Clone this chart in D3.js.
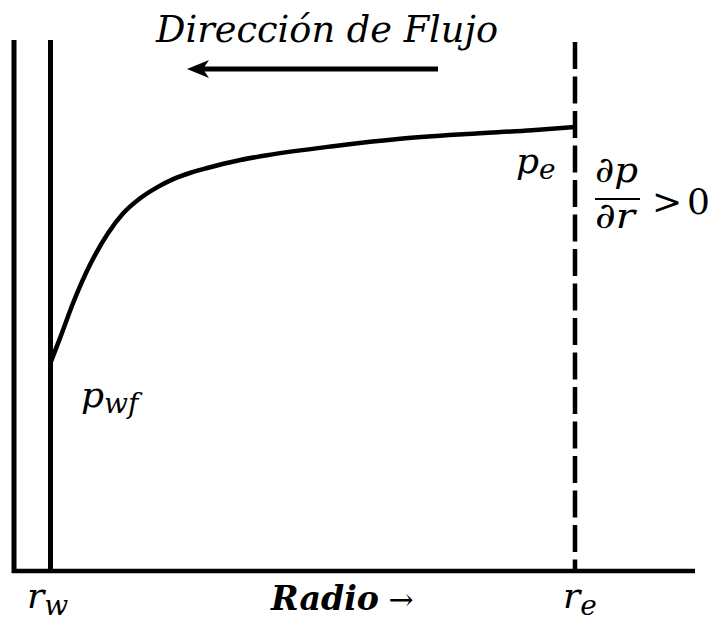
<!DOCTYPE html>
<html><head><meta charset="utf-8">
<script src="https://cdn.jsdelivr.net/npm/d3@7"></script>
<style>html,body{margin:0;padding:0;background:#fff;}svg{display:block;}</style>
</head><body>
<svg id="c" width="714" height="627"></svg>
<script>
// radius in % of distance from r_w (0) to r_e (100); pressure in % of plot height
const radius   = [0, 1.9, 4.4, 7.6, 10.9, 13.9, 17.1, 20.4, 23.4, 26.7, 29.9, 36.2, 41.3, 53.9, 66.7, 79.4, 91.8, 100];
const pressure = [39.2, 44.1, 50.7, 57.8, 63.5, 67.4, 70.2, 72.3, 73.8, 75.0, 75.9, 77.4, 78.3, 80.0, 81.4, 82.3, 83.0, 83.6];
const title = "Dirección de Flujo";
const xLabel = "Radio";
const xArrow = " →";
const boundaryLabels = ["r", "w", "r", "e"];

const svg = d3.select("#c");
const x = d3.scaleLinear().domain([0, 100]).range([50.5, 575]);
const y = d3.scaleLinear().domain([0, 100]).range([571, 40]);
const xAxisScale = d3.scaleLinear().domain([-10, 130]).range([12, 695]);

const serif = "'DejaVu Serif', 'Liberation Serif', serif";

// frame: left axis & bottom axis
svg.append("line").attr("x1", 14).attr("x2", 14).attr("y1", 40).attr("y2", 573)
  .attr("stroke", "#000").attr("stroke-width", 5);
svg.append("line").attr("x1", xAxisScale.range()[0]).attr("x2", xAxisScale.range()[1]).attr("y1", y(0)).attr("y2", y(0))
  .attr("stroke", "#000").attr("stroke-width", 4.5);

// r_w line
svg.append("line").attr("x1", x(0)).attr("x2", x(0)).attr("y1", 40).attr("y2", y(0))
  .attr("stroke", "#000").attr("stroke-width", 5);
// r_e dashed line
svg.append("line").attr("x1", x(100)).attr("x2", x(100)).attr("y1", 42).attr("y2", y(0))
  .attr("stroke", "#000").attr("stroke-width", 4.5).attr("stroke-dasharray", "27,7.5");

// pressure curve
const pts = radius.map((r, i) => [r, pressure[i]]);
svg.append("path").datum(pts)
  .attr("d", d3.line().x(d => x(d[0])).y(d => y(d[1])).curve(d3.curveMonotoneX))
  .attr("fill", "none").attr("stroke", "#000").attr("stroke-width", 4.5);

// title
svg.append("text").attr("x", 156).attr("y", 42).attr("textLength", 342).attr("lengthAdjust", "spacingAndGlyphs")
  .attr("font-family", serif).attr("font-style", "italic").attr("font-size", 38).attr("fill", "#000").text(title);

// flow arrow
svg.append("line").attr("x1", 438).attr("x2", 200).attr("y1", 69).attr("y2", 69)
  .attr("stroke", "#000").attr("stroke-width", 5);
svg.append("path").attr("d", "M187,69 L209,60 L203,69 L209,78 Z").attr("fill", "#000");

// p_wf
const pwf = svg.append("text").attr("x", 81).attr("y", 407).attr("font-family", serif).attr("font-style", "italic").attr("font-size", 36).attr("fill", "#000");
pwf.append("tspan").text("p");
pwf.append("tspan").attr("dy", 6).attr("font-size", 28).text("wf");

// p_e
const pe = svg.append("text").attr("x", 516).attr("y", 173).attr("font-family", serif).attr("font-style", "italic").attr("font-size", 36).attr("fill", "#000");
pe.append("tspan").text("p");
pe.append("tspan").attr("dy", 6).attr("font-size", 28).text("e");

// derivative
svg.append("text").attr("x", 595).attr("y", 182).attr("textLength", 43).attr("lengthAdjust", "spacingAndGlyphs").attr("font-family", serif).attr("font-style", "italic").attr("font-size", 36).attr("fill", "#000").text("∂p");
svg.append("line").attr("x1", 595).attr("x2", 640).attr("y1", 199).attr("y2", 199).attr("stroke", "#000").attr("stroke-width", 1.8);
svg.append("text").attr("x", 595).attr("y", 228).attr("textLength", 40).attr("lengthAdjust", "spacingAndGlyphs").attr("font-family", serif).attr("font-style", "italic").attr("font-size", 36).attr("fill", "#000").text("∂r");
svg.append("text").attr("x", 652).attr("y", 214).attr("textLength", 58).attr("lengthAdjust", "spacing").attr("font-family", serif).attr("font-size", 36).attr("fill", "#000").text("> 0");

// r_w, r_e
const rw = svg.append("text").attr("x", 27).attr("y", 608).attr("font-family", serif).attr("font-style", "italic").attr("font-size", 36).attr("fill", "#000");
rw.append("tspan").text(boundaryLabels[0]);
rw.append("tspan").attr("dy", 7).attr("font-size", 28).text(boundaryLabels[1]);
const re = svg.append("text").attr("x", 563).attr("y", 608).attr("font-family", serif).attr("font-style", "italic").attr("font-size", 36).attr("fill", "#000");
re.append("tspan").text(boundaryLabels[2]);
re.append("tspan").attr("dy", 7).attr("font-size", 28).text(boundaryLabels[3]);

// x label
const xl = svg.append("text").attr("x", 271).attr("y", 610).attr("font-family", serif).attr("font-size", 34).attr("fill", "#000");
xl.append("tspan").attr("font-style", "italic").attr("font-weight", "bold").attr("textLength", 108).attr("lengthAdjust", "spacingAndGlyphs").text(xLabel);
xl.append("tspan").attr("font-weight", "normal").attr("font-size", 30).text(xArrow);
</script>
</body></html>
